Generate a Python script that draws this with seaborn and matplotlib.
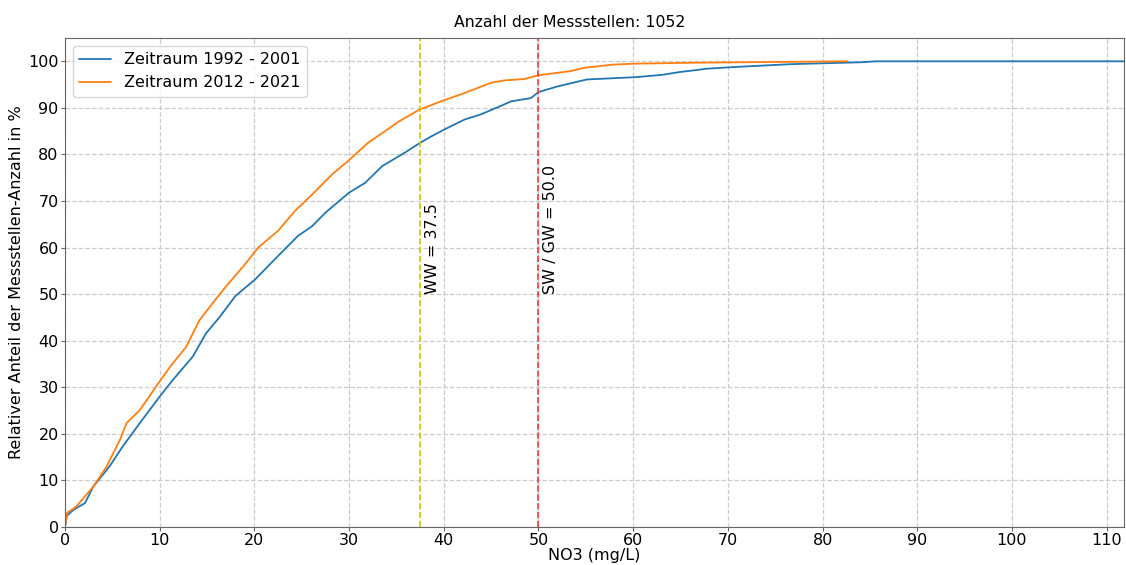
import pandas as pd
import matplotlib
matplotlib.use("Agg")
import matplotlib.pyplot as plt
import seaborn as sns

# cumulative share of monitoring sites (%) vs. NO3 concentration (mg/L)
no3_1992 = [0.0, 0.2, 0.9, 2.1, 3.0, 4.7, 6.1, 7.9, 10.0, 11.4, 13.5, 14.9, 16.3, 18.0,
            20.1, 22.5, 24.6, 26.1, 27.5, 30.0, 31.7, 33.5, 35.9, 37.5, 38.7, 40.1,
            42.2, 43.9, 46.0, 47.1, 49.2, 50.0, 52.0, 55.1, 60.3, 63.1, 64.9, 66.6,
            67.7, 70.9, 76.8, 84.2, 85.6, 111.8]
pct_1992 = [0.0, 2.4, 3.7, 5.1, 8.7, 13.0, 17.3, 22.3, 28.0, 31.6, 36.6, 41.6, 45.0, 49.6,
            53.2, 58.2, 62.5, 64.6, 67.5, 71.8, 73.9, 77.5, 80.4, 82.5, 83.9, 85.4,
            87.5, 88.6, 90.4, 91.4, 92.1, 93.4, 94.6, 96.1, 96.6, 97.1, 97.7, 98.1,
            98.4, 98.8, 99.4, 99.8, 100.0, 100.0]

no3_2012 = [0.0, 0.2, 1.2, 3.0, 4.4, 5.8, 6.5, 7.9, 9.6, 11.1, 12.8, 14.2, 15.8, 16.9,
            19.0, 20.4, 22.5, 24.3, 26.1, 28.2, 29.9, 32.0, 33.8, 35.2, 37.4, 39.7,
            42.2, 45.0, 46.4, 48.5, 50.0, 53.4, 54.8, 57.9, 60.3, 66.6, 82.6]
pct_2012 = [0.0, 3.0, 4.4, 8.7, 13.0, 18.7, 22.3, 25.1, 30.1, 34.4, 38.7, 44.4, 48.6, 51.4,
            56.4, 60.0, 63.6, 67.9, 71.4, 75.7, 78.6, 82.5, 85.0, 87.0, 89.6, 91.4,
            93.2, 95.4, 95.9, 96.2, 97.0, 97.9, 98.6, 99.3, 99.5, 99.7, 100.0]

labels = ["Zeitraum 1992 - 2001", "Zeitraum 2012 - 2021"]
thresholds = [37.5, 50.0]
threshold_names = ["WW", "SW / GW"]
n_sites = 1052

sns.set_style("ticks")
plt.rcParams["font.family"] = ["DejaVu Sans"]
plt.rcParams["font.size"] = 11.5
for key in ["text.color", "axes.labelcolor", "xtick.labelcolor", "ytick.labelcolor"]:
    plt.rcParams[key] = "black"

fig, ax = plt.subplots(figsize=(11.26, 5.65), dpi=100)
fig.subplots_adjust(left=0.0577, right=0.998, bottom=0.0673, top=0.9327)

df_a = pd.DataFrame({"x": no3_1992, "y": pct_1992})
df_b = pd.DataFrame({"x": no3_2012, "y": pct_2012})
sns.lineplot(data=df_a, x="x", y="y", ax=ax, color="#1f77b4", lw=1.3,
             estimator=None, sort=False, label=labels[0])
sns.lineplot(data=df_b, x="x", y="y", ax=ax, color="#ff7f0e", lw=1.3,
             estimator=None, sort=False, label=labels[1])

for val, name, col in zip(thresholds, threshold_names, ["#c8c800", "#ff3333"]):
    ax.axvline(val, color=col, ls="--", lw=1.2)
    ax.text(val + 0.5, 50, f"{name} = {val}", rotation=90, ha="left", va="bottom")

ax.set_xlim(0, 111.8)
ax.set_ylim(0, 105)
ax.set_xticks(range(0, 111, 10))
ax.set_yticks(range(0, 101, 10))
ax.tick_params(length=3, pad=1.5, labelsize=11.5, color="#666666")
ax.grid(True, ls="--", color="#cccccc", lw=0.9)
for sp in ax.spines.values():
    sp.set_visible(True)
    sp.set_color("#666666")
ax.set_xlabel("NO3 (mg/L)", labelpad=0)
ax.set_ylabel("Relativer Anteil der Messstellen-Anzahl in %", labelpad=3)
fig.text(0.506, 0.961, f"Anzahl der Messstellen: {n_sites}", ha="center", va="center",
         fontsize=11.3)
ax.legend(loc="upper left")

plt.savefig("out.png", dpi=100)
plt.close()
